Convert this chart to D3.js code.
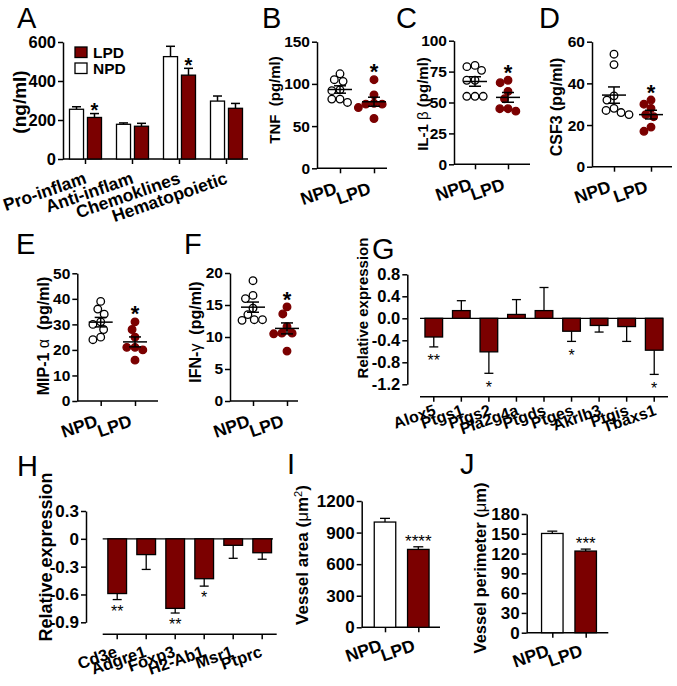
<!DOCTYPE html>
<html><head><meta charset="utf-8">
<script src="https://cdn.jsdelivr.net/npm/d3@7"></script>
<style>body{margin:0;background:#fff}</style>
</head><body><script>
// ---------------- DATA ----------------
const groupsA = ["Pro-inflam","Anti-inflam","Chemoklines","Hematopoietic"];
const npdA = [255,178,525,297];
const npdErrA = [13,7,53,26];
const lpdA = [213,168,430,260];
const lpdErrA = [20,15,35,25];
const sigA = ["*","","*",""];
const ticksA = [0,200,400,600];

const diets = ["NPD","LPD"];
const tnfNPD = [112,105,103,93,92,82,78,82];
const tnfLPD = [105,87,77,76,76,72,59];
const il1NPD = [80,76,79,68,68,55,55,55];
const il1LPD = [68,66,59,53,45,43,45];
const csfNPD = [54,49,34,32,28,27,26,25];
const csfLPD = [32,30,28,25,24,19,17];
const mipNPD = [39,36,34,31,30,28,25,24];
const mipLPD = [31,28,25,21,21,20,16];
const ifnNPD = [18.8,16.5,16,14.5,13.5,12.7,12.7,12.6];
const ifnLPD = [14.7,13.6,11.6,10.6,10.5,10.6,7.8];
const ticksB = [0,50,100,150];
const ticksC = [0,25,50,75,100];
const ticksD = [0,20,40,60];
const ticksE = [0,10,20,30,40,50];
const ticksF = [0,5,10,15,20];

const genesG = ["Alox5","Ptgs1","Ptgs2","Pla2g4a","Ptgds","Ptges","Akrlb3","Ptgis","Tbaxs1"];
const valG = [-0.34,0.14,-0.61,0.07,0.14,-0.235,-0.13,-0.15,-0.58];
const errG = [0.18,0.18,0.39,0.27,0.42,0.185,0.12,0.27,0.44];
const sigG = ["**","","*","","","*","","","*"];
const ticksG = [-1.2,-0.8,-0.4,0,0.4,0.8];

const genesH = ["Cd3e","Adgre1","Foxp3","H2-Ab1","Msr1","Ptprc"];
const valH = [-0.59,-0.17,-0.75,-0.43,-0.07,-0.15];
const errH = [0.065,0.16,0.05,0.08,0.14,0.07];
const sigH = ["**","","**","*","",""];
const ticksH = [-0.9,-0.6,-0.3,0,0.3];

const areaI = [1000,740];
const areaErrI = [35,25];
const sigI = ["","****"];
const ticksI = [0,300,600,900,1200];

const perimJ = [150.5,123.8];
const perimErrJ = [3.5,3];
const sigJ = ["","***"];
const ticksJ = [0,30,60,90,120,150,180];

// ---------------- HELPERS ----------------
const RED = "#7b0000";
const FONT = "'Liberation Sans', Arial, sans-serif";
const svg = d3.select("body").append("svg").attr("width",677).attr("height",686)
  .style("font-family",FONT);

function T(x,y,str,o={}){
  const p = o.parent||svg;
  const t = p.append("text")
    .attr("transform",`translate(${x},${y}) rotate(${o.rot||0})`)
    .attr("text-anchor",o.anchor||"start")
    .style("font-size",(o.fs||15)+"px")
    .style("font-weight",o.w||"bold")
    .style("white-space","pre")
    .attr("fill","#000");
  if (Array.isArray(str)) {
    str.forEach(s=>{
      const ts = t.append("tspan").text(s.t);
      if (s.w) ts.style("font-weight",s.w);
      if (s.sup) ts.attr("baseline-shift","super").style("font-size",(o.fs*0.65)+"px");
    });
  } else t.text(str);
  return t;
}
function line(x1,y1,x2,y2,w=1.5){
  svg.append("line").attr("x1",x1).attr("y1",y1).attr("x2",x2).attr("y2",y2)
    .attr("stroke","#000").attr("stroke-width",w);
}
function styleAxis(g,fs){
  g.attr("font-family",null).attr("font-size",null);
  g.select(".domain").attr("stroke","#000").attr("stroke-width",1.5);
  g.selectAll(".tick line").attr("stroke","#000").attr("stroke-width",1.5);
  g.selectAll(".tick text").attr("fill","#000").style("font-size",fs+"px").style("font-weight","bold");
}
function yAxis(x,scale,ticks,fs,fmt){
  const g = svg.append("g").attr("transform",`translate(${x},0)`)
    .call(d3.axisLeft(scale).tickValues(ticks).tickFormat(fmt||(d=>d))
      .tickSize(5).tickSizeOuter(0).tickPadding(2));
  styleAxis(g,fs);
}
function xAxis(x0,x1,y,scale){
  const g = svg.append("g").attr("transform",`translate(0,${y})`)
    .call(d3.axisBottom(scale).tickSize(5).tickSizeOuter(0).tickFormat(""));
  g.select(".domain").remove();
  styleAxis(g,12);
  line(x0,y,x1,y);
}
function catLabels(scale,cats,y,dx,dy,fs,rot=-19){
  const off = scale.bandwidth ? scale.bandwidth()/2 : 0;
  cats.forEach(c=>T(scale(c)+off+dx,y+dy,c,{fs,anchor:"end",rot}));
}
function yLabel(x,y,parts,fs){ T(x,y,parts,{fs,anchor:"middle",rot:-90}); }
function letter(x,y,s){ T(x,y,s,{fs:29,w:"normal"}); }
function star(x,cy,s,fs,w="bold"){ if(!s) return; T(x,cy+0.575*fs,s,{fs,anchor:"middle",w}); }

function swarm(vals,y,r){
  const pts = vals.map(v=>({v,py:y(v)})).sort((a,b)=>a.py-b.py);
  const D = 2*r+0.6, placed=[];
  for (const p of pts){
    const c=[0];
    for (const q of placed){ const dy=p.py-q.py; if(Math.abs(dy)<D){const dx=Math.sqrt(D*D-dy*dy); c.push(q.dx+dx,q.dx-dx);} }
    c.sort((a,b)=>Math.abs(a)-Math.abs(b)||a-b);
    for (const cx of c){ if(placed.every(q=>Math.hypot(cx-q.dx,p.py-q.py)>=D-1e-6)){p.dx=cx;break;} }
    placed.push(p);
  }
  return placed;
}

function scatterPanel(o){
  const y = d3.scaleLinear().domain([0,o.ticks[o.ticks.length-1]]).range(o.yRange);
  const x = d3.scalePoint().domain(diets).range(o.xTicks);
  yAxis(o.ax,y,o.ticks,15.5);
  xAxis(o.ax,o.axEnd,y(0),x);
  catLabels(x,diets,y(0),-2,25,17.5);
  [[o.npd,"NPD"],[o.lpd,"LPD"]].forEach(([vals,g])=>{
    const pts = swarm(vals,y,3.8);
    svg.append("g").selectAll("circle").data(pts).join("circle")
      .attr("cx",d=>x(g)+d.dx).attr("cy",d=>d.py).attr("r",3.8)
      .attr("fill",g==="NPD"?"#fff":RED).attr("stroke",g==="NPD"?"#000":RED).attr("stroke-width",1.3);
  });
  [[o.npd,"NPD"],[o.lpd,"LPD"]].forEach(([vals,g])=>{
    const m=d3.mean(vals), se=d3.deviation(vals)/Math.sqrt(vals.length), cx=x(g);
    line(cx-12,y(m),cx+12,y(m));
    line(cx,y(m-se),cx,y(m+se));
    line(cx-6,y(m-se),cx+6,y(m-se));
    line(cx-6,y(m+se),cx+6,y(m+se));
  });
  star(x("LPD"),y(d3.max(o.lpd))-13,"*",22);
  yLabel(o.lx,o.ly,o.label,o.lfs);
}

// ---------------- PANEL A ----------------
{
  const y = d3.scaleLinear().domain([0,600]).range([159,42]);
  const x0 = d3.scaleBand().domain(groupsA).range([62,250]);
  const x1 = d3.scaleBand().domain(diets).range([-16,16]).paddingInner(0.22);
  yAxis(63,y,ticksA,16.5);
  xAxis(63,248,y(0),x0);
  const rows = groupsA.map((g,i)=>({g,i}));
  [["NPD",npdA,npdErrA,"#fff"],["LPD",lpdA,lpdErrA,RED]].forEach(([d,vals,errs,fill])=>{
    rows.forEach(({g,i})=>{
      const cx = x0(g)+x0.bandwidth()/2+x1(d)+x1.bandwidth()/2;
      line(cx,y(vals[i]),cx,y(vals[i]+errs[i]));
      line(cx-4.5,y(vals[i]+errs[i]),cx+4.5,y(vals[i]+errs[i]));
    });
    svg.append("g").selectAll("rect").data(rows).join("rect")
      .attr("x",r=>x0(r.g)+x0.bandwidth()/2+x1(d)).attr("width",x1.bandwidth())
      .attr("y",r=>y(vals[r.i])).attr("height",r=>y(0)-y(vals[r.i]))
      .attr("fill",fill).attr("stroke","#000").attr("stroke-width",1.3);
  });
  rows.forEach(({g,i})=>{
    const cx = x0(g)+x0.bandwidth()/2+x1("LPD")+x1.bandwidth()/2;
    star(cx,y(lpdA[i]+lpdErrA[i])-8,sigA[i],20);
  });
  catLabels(x0,groupsA,y(0),2,24,17.5);
  // legend
  svg.append("rect").attr("x",75).attr("y",47).attr("width",12).attr("height",10.5).attr("fill",RED).attr("stroke","#000").attr("stroke-width",1.3);
  svg.append("rect").attr("x",75).attr("y",63).attr("width",12).attr("height",10.5).attr("fill","#fff").attr("stroke","#000").attr("stroke-width",1.3);
  T(93,57.5,"LPD",{fs:15.5});
  T(93,73.5,"NPD",{fs:15.5});
  yLabel(26,102,"(ng/ml)",19);
  letter(17,28,"A");
}

// ---------------- SCATTER PANELS ----------------
scatterPanel({ax:317,axEnd:387,xTicks:[340,374],yRange:[168.3,41.7],ticks:ticksB,npd:tnfNPD,lpd:tnfLPD,
  label:[{t:"TNF  (pg/ml)"}],lx:280,ly:100,lfs:15});
letter(262,28,"B");
scatterPanel({ax:454,axEnd:530,xTicks:[475,508],yRange:[164.3,40.7],ticks:ticksC,npd:il1NPD,lpd:il1LPD,
  label:[{t:"IL-1 "},{t:"β",w:"normal"},{t:" (pg/ml)"}],lx:428,ly:104,lfs:15});
letter(396,28,"C");
scatterPanel({ax:592,axEnd:672,xTicks:[614,651],yRange:[166.7,41.7],ticks:ticksD,npd:csfNPD,lpd:csfLPD,
  label:[{t:"CSF3 (pg/ml)"}],lx:562,ly:107,lfs:16});
letter(539,28,"D");
scatterPanel({ax:77.3,axEnd:158,xTicks:[100.7,135],yRange:[401,273.3],ticks:ticksE,npd:mipNPD,lpd:mipLPD,
  label:[{t:"MIP-1 "},{t:"α",w:"normal"},{t:"  (pg/ml)"}],lx:49,ly:336,lfs:16});
letter(16,254,"E");
scatterPanel({ax:230,axEnd:298,xTicks:[253,287],yRange:[401,273],ticks:ticksF,npd:ifnNPD,lpd:ifnLPD,
  label:[{t:"IFN-"},{t:"γ",w:"normal"},{t:"  (pg/ml)"}],lx:201,ly:332,lfs:16});
letter(184,254,"F");

// ---------------- PANELS G, H ----------------
function genePanel(o){
  const y = d3.scaleLinear().domain([o.ticks[0],o.ticks[o.ticks.length-1]]).range(o.yRange);
  const x = d3.scaleBand().domain(o.genes).range(o.xRange).paddingInner(o.pad).paddingOuter(o.pad/2);
  yAxis(o.ax,y,o.ticks,o.tfs,o.fmt);
  xAxis(o.xRange[0],o.xRange[1],o.xAxisY,x);
  line(o.xRange[0],y(0),o.zeroEnd,y(0),1.3);
  const rows = o.genes.map((g,i)=>({g,v:o.vals[i],e:o.errs[i],s:o.sig[i]}));
  rows.forEach(r=>{
    const cx=x(r.g)+x.bandwidth()/2, end=r.v<0?r.v-r.e:r.v+r.e;
    line(cx,y(r.v),cx,y(end),1.3);
    line(cx-4.5,y(end),cx+4.5,y(end),1.3);
    star(cx,y(end)+o.starOff,r.s,16,"normal");
  });
  svg.append("g").selectAll("rect").data(rows).join("rect")
    .attr("x",r=>x(r.g)).attr("width",x.bandwidth())
    .attr("y",r=>y(Math.max(0,r.v))).attr("height",r=>Math.abs(y(r.v)-y(0)))
    .attr("fill",RED).attr("stroke","#000").attr("stroke-width",1.3);
  catLabels(x,o.genes,o.xAxisY,o.ldx,o.ldy,o.lfs);
  yLabel(o.lx,o.ly,"Relative expression",o.yfs);
}
genePanel({genes:genesG,vals:valG,errs:errG,sig:sigG,ticks:ticksG,yRange:[384.3,274.3],
  xRange:[420,668],pad:0.36,ax:407.3,xAxisY:396.7,zeroEnd:663,tfs:16.5,fmt:d=>d.toFixed(1),
  starOff:10,ldx:3,ldy:18,lfs:16,lx:368,ly:308,yfs:15});
letter(372,259,"G");

genePanel({genes:genesH,vals:valH,errs:errH,sig:sigH,ticks:ticksH,yRange:[622.3,511],
  xRange:[102.7,276.7],pad:0.355,ax:86,xAxisY:634.3,zeroEnd:273,tfs:17,fmt:d=>d===0?"0":d.toFixed(1),
  starOff:8,ldx:1,ldy:22,lfs:16.5,lx:52,ly:557,yfs:18});
letter(17,476,"H");

// ---------------- PANELS I, J ----------------
function twoBar(o){
  const y = d3.scaleLinear().domain([0,o.ticks[o.ticks.length-1]]).range(o.yRange);
  const x = d3.scalePoint().domain(diets).range(o.xTicks);
  yAxis(o.ax,y,o.ticks,17);
  xAxis(o.ax,o.axEnd,y(0),x);
  const rows = diets.map((g,i)=>({g,v:o.vals[i],e:o.errs[i],s:o.sig[i]}));
  rows.forEach(r=>{
    line(x(r.g),y(r.v),x(r.g),y(r.v+r.e),1.3);
    line(x(r.g)-5,y(r.v+r.e),x(r.g)+5,y(r.v+r.e),1.3);
    star(x(r.g),y(r.v+r.e)-10,r.s,17,"normal");
  });
  svg.append("g").selectAll("rect").data(rows).join("rect")
    .attr("x",r=>x(r.g)-10.75).attr("width",21.5)
    .attr("y",r=>y(r.v)).attr("height",r=>y(0)-y(r.v))
    .attr("fill",r=>r.g==="NPD"?"#fff":RED).attr("stroke","#000").attr("stroke-width",1.3);
  catLabels(x,diets,y(0),-2,23,17.5);
  yLabel(o.lx,o.ly,o.label,o.lfs);
}
twoBar({vals:areaI,errs:areaErrI,sig:sigI,ticks:ticksI,yRange:[627.3,501],ax:361.7,axEnd:440,xTicks:[385,418.3],
  label:[{t:"Vessel area ("},{t:"μ",w:"normal"},{t:"m"},{t:"2",w:"normal",sup:true},{t:")"}],lx:308,ly:555,lfs:17});
letter(287,474,"I");
twoBar({vals:perimJ,errs:perimErrJ,sig:sigJ,ticks:ticksJ,yRange:[632.7,514],ax:526.7,axEnd:608.3,xTicks:[552.3,585.7],
  label:[{t:"Vessel perimeter ("},{t:"μ",w:"normal"},{t:"m)"}],lx:486,ly:568,lfs:16.5});
letter(460,474,"J");
</script></body></html>
